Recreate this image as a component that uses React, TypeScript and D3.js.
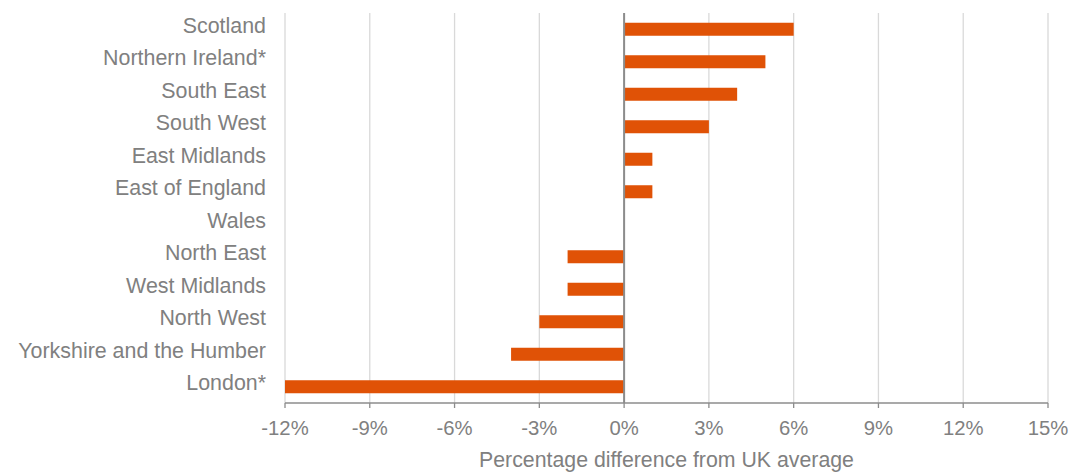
import React from "react";
import * as d3 from "d3";

const categories = [
  "Scotland",
  "Northern Ireland*",
  "South East",
  "South West",
  "East Midlands",
  "East of England",
  "Wales",
  "North East",
  "West Midlands",
  "North West",
  "Yorkshire and the Humber",
  "London*",
];
const values = [6, 5, 4, 3, 1, 1, 0, -2, -2, -3, -4, -12];
const tickValues = [-12, -9, -6, -3, 0, 3, 6, 9, 12, 15];
const axisTitle = "Percentage difference from UK average";

const W = 1073;
const H = 473;
const left = 285;
const right = 1048;
const top = 13;
const bottom = 403;
const font = "'Liberation Sans', Arial, sans-serif";
const textColor = "#808080";

export default function App() {
  const x = d3.scaleLinear().domain([-12, 15]).range([left, right]);
  const y = d3
    .scaleBand<string>()
    .domain(categories)
    .range([top, bottom])
    .paddingInner(0.6)
    .paddingOuter(0.3);
  const yc = d3.scaleBand<string>().domain(categories).range([top, bottom]);

  return (
    <div style={{ position: "absolute", left: 0, top: 0 }}>
      <svg width={W} height={H} style={{ display: "block", background: "#fff" }}>
        {tickValues.map((t) => (
          <line
            key={"g" + t}
            x1={x(t)}
            x2={x(t)}
            y1={top}
            y2={bottom}
            stroke="#d9d9d9"
            strokeWidth={1.3}
          />
        ))}
        {categories.map((c, i) => {
          const v = values[i];
          const x0 = x(Math.min(0, v));
          const x1 = x(Math.max(0, v));
          return (
            <rect
              key={"b" + c}
              x={x0}
              y={y(c)}
              width={x1 - x0}
              height={y.bandwidth()}
              fill="#E05206"
            />
          );
        })}
        <line x1={x(0)} x2={x(0)} y1={top} y2={bottom} stroke="#8c8c8c" strokeWidth={2} />
        <line x1={left} x2={right} y1={bottom} y2={bottom} stroke="#8c8c8c" strokeWidth={1.3} />
        {tickValues.map((t) => (
          <line
            key={"t" + t}
            x1={x(t)}
            x2={x(t)}
            y1={bottom}
            y2={bottom + 5}
            stroke="#8c8c8c"
            strokeWidth={1.3}
          />
        ))}
        {tickValues.map((t) => (
          <text
            key={"l" + t}
            x={x(t)}
            y={435}
            textAnchor="middle"
            fontFamily={font}
            fontSize={20.3}
            fill={textColor}
          >
            {t + "%"}
          </text>
        ))}
        {categories.map((c) => (
          <text
            key={"c" + c}
            x={266}
            y={(yc(c) as number) + yc.bandwidth() / 2 + 3.5}
            textAnchor="end"
            fontFamily={font}
            fontSize={21.4}
            fill={textColor}
          >
            {c}
          </text>
        ))}
        <text
          x={(left + right) / 2}
          y={467}
          textAnchor="middle"
          fontFamily={font}
          fontSize={21.3}
          fill={textColor}
        >
          {axisTitle}
        </text>
      </svg>
    </div>
  );
}
